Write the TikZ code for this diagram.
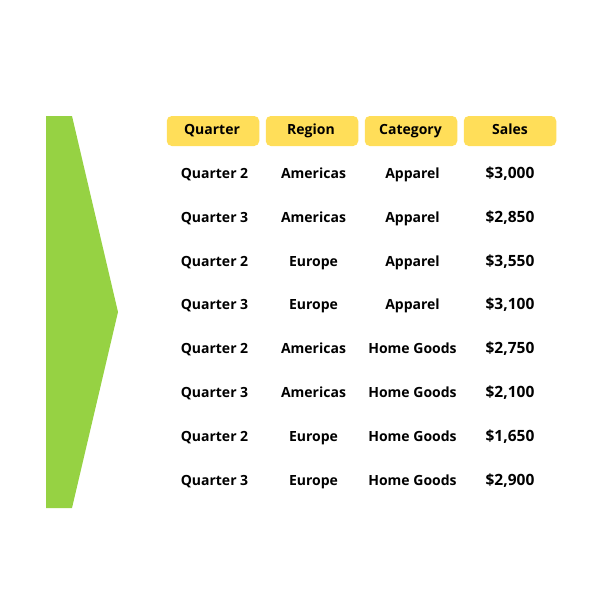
\documentclass[tikz,border=0pt]{standalone}
\usepackage{fontspec}
\setmainfont{Open Sans}
\usepackage{tikz}
\tikzset{
  headbox/.style={fill=headyellow, rounded corners=5pt, minimum width=92.5pt, minimum height=30pt, inner sep=0pt},
  headcell/.style={anchor=base, inner sep=0pt, font=\fontsize{14}{16}\selectfont\bfseries},
  bodycell/.style={anchor=base, inner sep=0pt, font=\fontsize{14}{16}\selectfont\bfseries},
  salescell/.style={bodycell, font=\fontsize{15.5}{16}\selectfont\bfseries}
}
\definecolor{headyellow}{HTML}{FFDE59}
\definecolor{arrowgreen}{HTML}{96D243}

\begin{document}
\begin{tikzpicture}[x=1pt, y=-1pt]
\useasboundingbox (0,0) rectangle (600,600);
\fill [arrowgreen] (46,116) -- (72,116) -- (118,312) -- (72,508) -- (46,508) -- cycle;

\node [headbox] (boxa) at (213,131) {};
\node [headbox] (boxb) at (312,131) {};
\node [headbox] (boxc) at (411,131) {};
\node [headbox] (boxd) at (510,131) {};
\node [headcell] (quarter) at (212,134) {Quarter};
\node [headcell] (region) at (311,134) {Region};
\node [headcell] (category) at (410.5,134) {Category};
\node [headcell] (sales) at (510,134) {Sales};

\foreach \row/\y/\q/\r/\c/\s in {
  1/178/Quarter 2/Americas/Apparel/{\$3,000},
  2/222/Quarter 3/Americas/Apparel/{\$2,850},
  3/266/Quarter 2/Europe/Apparel/{\$3,550},
  4/309/Quarter 3/Europe/Apparel/{\$3,100},
  5/353/Quarter 2/Americas/Home Goods/{\$2,750},
  6/397/Quarter 3/Americas/Home Goods/{\$2,100},
  7/441/Quarter 2/Europe/Home Goods/{\$1,650},
  8/485/Quarter 3/Europe/Home Goods/{\$2,900}}
{
  \node [bodycell] (q\row) at (214.5,\y) {\q};
  \node [bodycell] (r\row) at (313.5,\y) {\r};
  \node [bodycell] (c\row) at (412.5,\y) {\c};
  \node [salescell] (s\row) at (510,\y) {\s};
}
\end{tikzpicture}
\end{document}
